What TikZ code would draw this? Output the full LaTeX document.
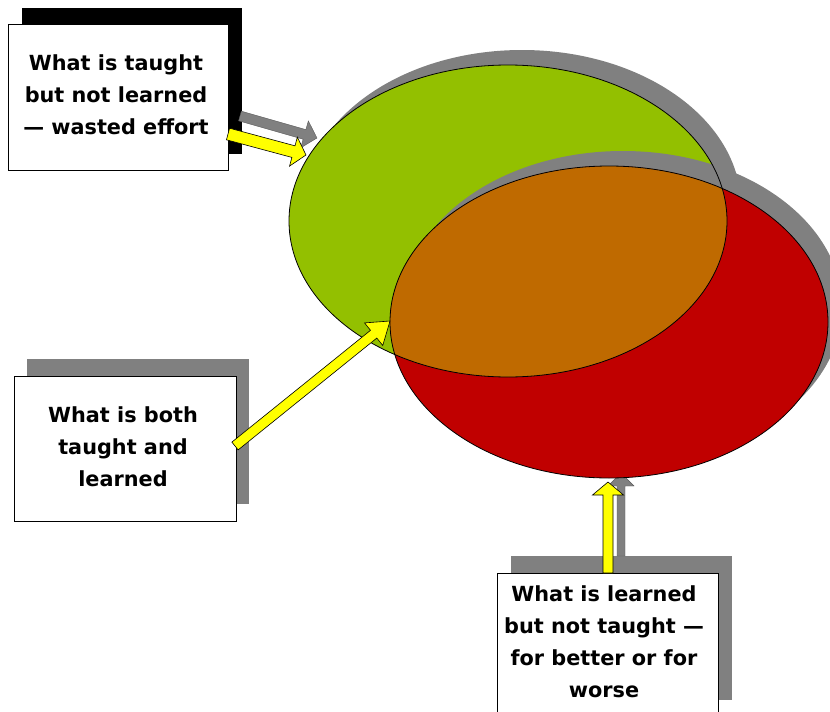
\documentclass[tikz,border=0pt]{standalone}
\usepackage{fontspec}
\setmainfont{DejaVu Sans}
\usetikzlibrary{calc}
\definecolor{vgreen}{HTML}{93C000}
\definecolor{vred}{HTML}{C00000}
\definecolor{vorange}{HTML}{BF6A00}
\definecolor{vgray}{HTML}{808080}
\definecolor{vyellow}{HTML}{FFFF00}
\pgfdeclarelayer{bg}
\pgfsetlayers{bg,main}
% #1 style, #2 start, #3 tip, #4 shaft half width, #5 head half width, #6 head length
\newcommand{\blockarrow}[6][]{%
  \coordinate (babase) at ($(#3)!#6!(#2)$);
  \draw[#1] ($(#2)!#4!90:(#3)$) -- ($(babase)!#4!90:(#3)$) -- ($(babase)!#5!90:(#3)$) -- (#3)
    -- ($(babase)!#5!-90:(#3)$) -- ($(babase)!#4!-90:(#3)$) -- ($(#2)!#4!-90:(#3)$) -- cycle;}
\begin{document}
\begin{tikzpicture}[x=1pt,y=-1pt,
  box/.style={draw=black, line width=0.8pt, fill=white, inner sep=0pt},
  boxtext/.style={inner sep=0pt, align=center, font=\bfseries\fontsize{20.8}{32}\selectfont},
  yarrow/.style={fill=vyellow, draw=black, line width=0.6pt, line join=miter},
  garrow/.style={fill=vgray, draw=vgray!70!black, line width=0.4pt},
  ell/.style={draw=black, line width=0.8pt}]
\useasboundingbox (0,0) rectangle (830,712);

% boxes
\node[box, minimum width=220pt, minimum height=146pt] (b1) at (118,97) {};
\node[box, minimum width=222pt, minimum height=145pt] (b2) at (125,448.5) {};
\node[box, minimum width=221pt, minimum height=144pt] (b3) at (607.5,645) {};
\node[boxtext] (t1) at (116,95) {What is taught\\but not learned\\--- wasted effort};
\node[boxtext] (t2) at (123,447) {What is both\\taught and\\learned};
\node[boxtext] (t3) at (604,642) {What is learned\\but not taught ---\\for better or for\\worse};
\begin{pgfonlayer}{bg}
  \fill[black] ([shift={(14,-16)}]b1.south west) rectangle ([shift={(14,-16)}]b1.north east);
  \fill[vgray] ([shift={(13,-17)}]b2.south west) rectangle ([shift={(13,-17)}]b2.north east);
  \fill[vgray] ([shift={(14,-17)}]b3.south west) rectangle ([shift={(14,-17)}]b3.north east);
\end{pgfonlayer}

% arrow coordinates
\coordinate (a1s) at (228,134);
\coordinate (a1t) at (306,155);
\coordinate (g1s) at (240,116);
\coordinate (g1t) at (317,138);
\coordinate (a2s) at (235,446);
\coordinate (a2t) at (390,321);
\coordinate (a3s) at (608,573);
\coordinate (a3t) at (608,482);
\coordinate (g3s) at (621,556);
\coordinate (g3t) at (621,473);

% shadow arrows
\blockarrow[garrow]{g1s}{g1t}{5pt}{14pt}{13pt}
\blockarrow[garrow]{g3s}{g3t}{4pt}{13pt}{13pt}

% ellipses
\coordinate (gc) at (508,221);
\coordinate (rc) at (609,322);
\fill[vgray] ($(gc)+(14,-15)$) ellipse [x radius=219, y radius=156];
\fill[vgreen] (gc) ellipse [x radius=219, y radius=156];
\fill[vgray] ($(rc)+(14,-15)$) ellipse [x radius=219, y radius=156];
\fill[vred] (rc) ellipse [x radius=219, y radius=156];
\begin{scope}
  \clip (gc) ellipse [x radius=219, y radius=156];
  \fill[vorange] (rc) ellipse [x radius=219, y radius=156];
\end{scope}
\draw[ell] (gc) ellipse [x radius=219, y radius=156];
\draw[ell] (rc) ellipse [x radius=219, y radius=156];

% yellow arrows
\blockarrow[yarrow]{a1s}{a1t}{6pt}{15pt}{13pt}
\blockarrow[yarrow]{a2s}{a2t}{5pt}{14.5pt}{21pt}
\blockarrow[yarrow]{a3s}{a3t}{5pt}{15.5pt}{13pt}
\end{tikzpicture}
\end{document}
